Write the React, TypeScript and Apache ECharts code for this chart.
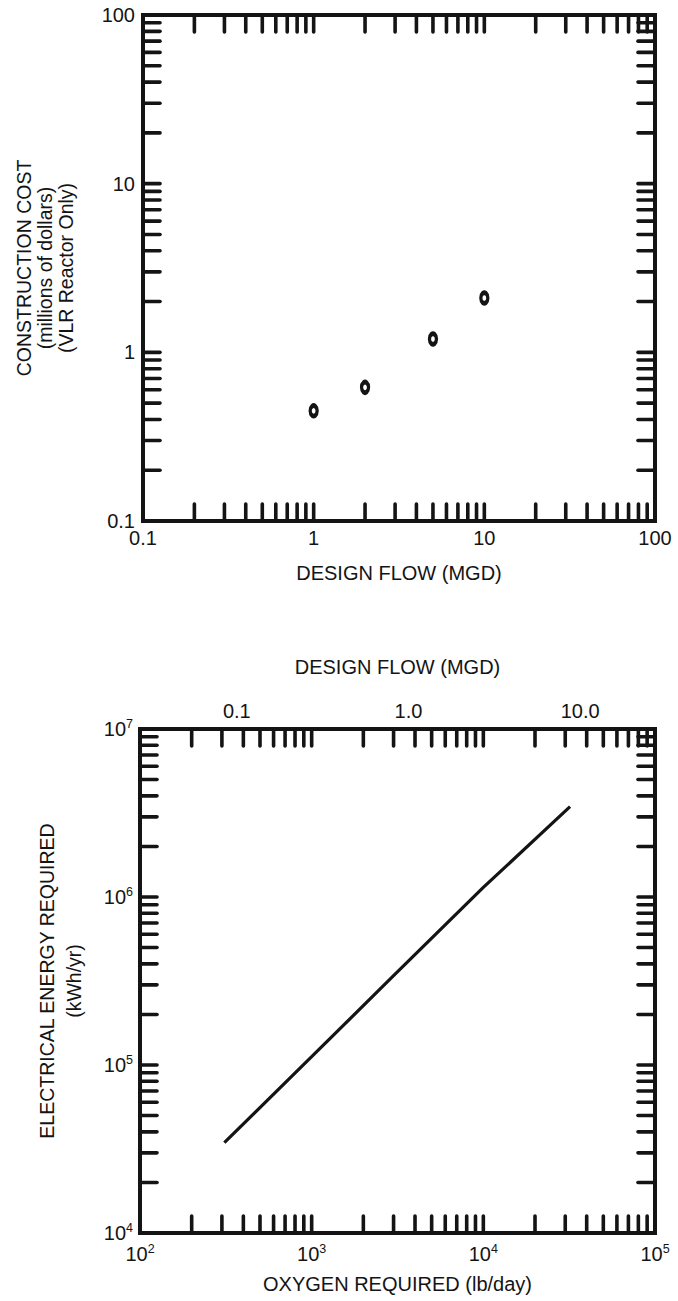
import React, { useEffect, useRef } from 'react';
import * as echarts from 'echarts';

// ---- Data ----
// Top chart: construction cost vs design flow
const flowMGD = [1, 2, 5, 10];
const costMillions = [0.45, 0.62, 1.2, 2.1];

// Bottom chart: electrical energy vs oxygen required
const oxygenLbDay = [310, 1000, 3000, 10000, 32000];
const energyKWhYr = [34500, 112000, 340000, 1140000, 3450000];

// ---- Tick labels ----
const costDecades = [0.1, 1, 10, 100];
const costDecadeLabels = ['0.1', '1', '10', '100'];
const flowTopValues = [0.1, 1, 10];
const flowTopLabels = ['0.1', '1.0', '10.0'];
const oxygenExponents = [2, 3, 4, 5];
const energyExponents = [4, 5, 6, 7];
const tickMultipliers = [1, 2, 3, 4, 5, 6, 7, 8, 9];

const INK = '#141414';
const FONT = '"Liberation Sans", Arial, Helvetica, sans-serif';

function logTicks(min: number, max: number): number[] {
  const out: number[] = [];
  const e0 = Math.floor(Math.log10(min));
  const e1 = Math.ceil(Math.log10(max));
  for (let e = e0; e < e1; e++) {
    for (const m of tickMultipliers) {
      const v = m * Math.pow(10, e);
      if (v > min * 1.0001 && v < max * 0.9999) out.push(v);
    }
  }
  return out;
}

function matchLabel(v: number, values: number[], labels: string[]): string {
  const lv = Math.log10(v);
  for (let i = 0; i < values.length; i++) {
    if (Math.abs(lv - Math.log10(values[i])) < 0.01) return labels[i];
  }
  return '';
}

function powerLabel(v: number, exps: number[]): string {
  const lv = Math.log10(v);
  for (const e of exps) {
    if (Math.abs(lv - e) < 0.01) return '{b|10}{sup|' + e + '}';
  }
  return '';
}

const TICK_LEN = 17;
const tickRender = (params: any, api: any) => {
  const cs = params.coordSys;
  const side = api.value(2);
  const style = { stroke: INK, lineWidth: 3.6, lineCap: 'round' };
  const p = api.coord([api.value(0), api.value(1)]);
  if (side === 0) {
    const x = p[0];
    return {
      type: 'group',
      children: [
        { type: 'line', shape: { x1: x, y1: cs.y + cs.height, x2: x, y2: cs.y + cs.height - TICK_LEN }, style },
        { type: 'line', shape: { x1: x, y1: cs.y, x2: x, y2: cs.y + TICK_LEN }, style },
      ],
    };
  }
  const y = p[1];
  return {
    type: 'group',
    children: [
      { type: 'line', shape: { x1: cs.x, y1: y, x2: cs.x + TICK_LEN, y2: y }, style },
      { type: 'line', shape: { x1: cs.x + cs.width, y1: y, x2: cs.x + cs.width - TICK_LEN, y2: y }, style },
    ],
  };
};

function tickData(xMin: number, xMax: number, yMin: number, yMax: number) {
  const xs = logTicks(xMin, xMax).map((v) => [v, yMin, 0]);
  const ys = logTicks(yMin, yMax).map((v) => [xMin, v, 1]);
  return xs.concat(ys);
}

const supRich = {
  b: { fontSize: 20, lineHeight: 24, color: INK, fontFamily: FONT },
  sup: { fontSize: 12.5, lineHeight: 12, verticalAlign: 'top', color: INK, fontFamily: FONT },
};

export default function App() {
  const ref = useRef<HTMLDivElement>(null);

  useEffect(() => {
    if (!ref.current) return;
    const chart = echarts.init(ref.current, undefined, { renderer: 'svg', width: 678, height: 1301 });

    const labelBase = { color: INK, fontFamily: FONT, fontSize: 20 };
    const hidden = {
      axisLine: { show: false },
      axisTick: { show: false },
      splitLine: { show: false },
      minorTick: { show: false },
    };

    const option: any = {
      animation: false,
      backgroundColor: '#ffffff',
      textStyle: { fontFamily: FONT },
      grid: [
        { left: 143, top: 15, width: 512, height: 506, show: true, borderColor: INK, borderWidth: 4, backgroundColor: 'transparent' },
        { left: 140, top: 729, width: 515, height: 504, show: true, borderColor: INK, borderWidth: 4, backgroundColor: 'transparent' },
      ],
      xAxis: [
        {
          gridIndex: 0, type: 'log', logBase: 10, min: 0.1, max: 100, position: 'bottom',
          ...hidden,
          axisLabel: { ...labelBase, margin: 7, formatter: (v: number) => matchLabel(v, costDecades, costDecadeLabels) },
          name: 'DESIGN FLOW (MGD)', nameLocation: 'middle', nameGap: 42,
          nameTextStyle: { ...labelBase },
        },
        {
          gridIndex: 1, type: 'log', logBase: 10, min: 100, max: 100000, position: 'bottom',
          ...hidden,
          axisLabel: { margin: 9, formatter: (v: number) => powerLabel(v, oxygenExponents), rich: supRich },
          name: 'OXYGEN REQUIRED (lb/day)', nameLocation: 'middle', nameGap: 41,
          nameTextStyle: { ...labelBase },
        },
        {
          gridIndex: 1, type: 'log', logBase: 10, min: 0.02729, max: 27.29, position: 'top',
          ...hidden,
          axisLabel: { ...labelBase, margin: 8, showMinLabel: false, showMaxLabel: false, formatter: (v: number) => matchLabel(v, flowTopValues, flowTopLabels) },
          name: 'DESIGN FLOW (MGD)', nameLocation: 'middle', nameGap: 52,
          nameTextStyle: { ...labelBase },
        },
      ],
      yAxis: [
        {
          gridIndex: 0, type: 'log', logBase: 10, min: 0.1, max: 100,
          ...hidden,
          axisLabel: { ...labelBase, margin: 8, formatter: (v: number) => matchLabel(v, costDecades, costDecadeLabels) },
          name: 'CONSTRUCTION COST\n(millions of dollars)\n(VLR Reactor Only)',
          nameLocation: 'middle', nameRotate: 90, nameGap: 66,
          nameTextStyle: { color: INK, fontFamily: FONT, fontSize: 19.5, lineHeight: 21.3, align: 'center' },
        },
        {
          gridIndex: 1, type: 'log', logBase: 10, min: 10000, max: 10000000,
          ...hidden,
          axisLabel: { margin: 7, formatter: (v: number) => powerLabel(v, energyExponents), rich: supRich },
          name: 'ELECTRICAL ENERGY REQUIRED\n(kWh/yr)',
          nameLocation: 'middle', nameRotate: 90, nameGap: 52.5,
          nameTextStyle: { color: INK, fontFamily: FONT, fontSize: 19.5, lineHeight: 27, align: 'center' },
        },
      ],
      series: [
        {
          type: 'custom', name: 'ticks-top', xAxisIndex: 0, yAxisIndex: 0, silent: true, clip: false, z: 5,
          dimensions: ['x', 'y', 'side'], encode: { x: 'x', y: 'y' },
          data: tickData(0.1, 100, 0.1, 100),
          renderItem: tickRender,
        },
        {
          type: 'custom', name: 'ticks-bottom', xAxisIndex: 1, yAxisIndex: 1, silent: true, clip: false, z: 5,
          dimensions: ['x', 'y', 'side'], encode: { x: 'x', y: 'y' },
          data: tickData(100, 100000, 10000, 10000000),
          renderItem: tickRender,
        },
        {
          type: 'scatter', name: 'Construction cost', xAxisIndex: 0, yAxisIndex: 0,
          symbol: 'circle', symbolSize: [7, 10.5],
          itemStyle: { color: '#ffffff', borderColor: INK, borderWidth: 4, opacity: 1 },
          data: flowMGD.map((f, i) => [f, costMillions[i]]),
          z: 6,
        },
        {
          type: 'line', name: 'Electrical energy', xAxisIndex: 1, yAxisIndex: 1,
          showSymbol: false, symbol: 'none',
          lineStyle: { color: INK, width: 3.2 },
          data: oxygenLbDay.map((o, i) => [o, energyKWhYr[i]]),
          z: 6,
        },
      ],
    };

    chart.setOption(option);
    return () => chart.dispose();
  }, []);

  return (
    <div
      ref={ref}
      style={{ position: 'absolute', left: 0, top: 0, width: 678, height: 1301, background: '#fff' }}
    />
  );
}
